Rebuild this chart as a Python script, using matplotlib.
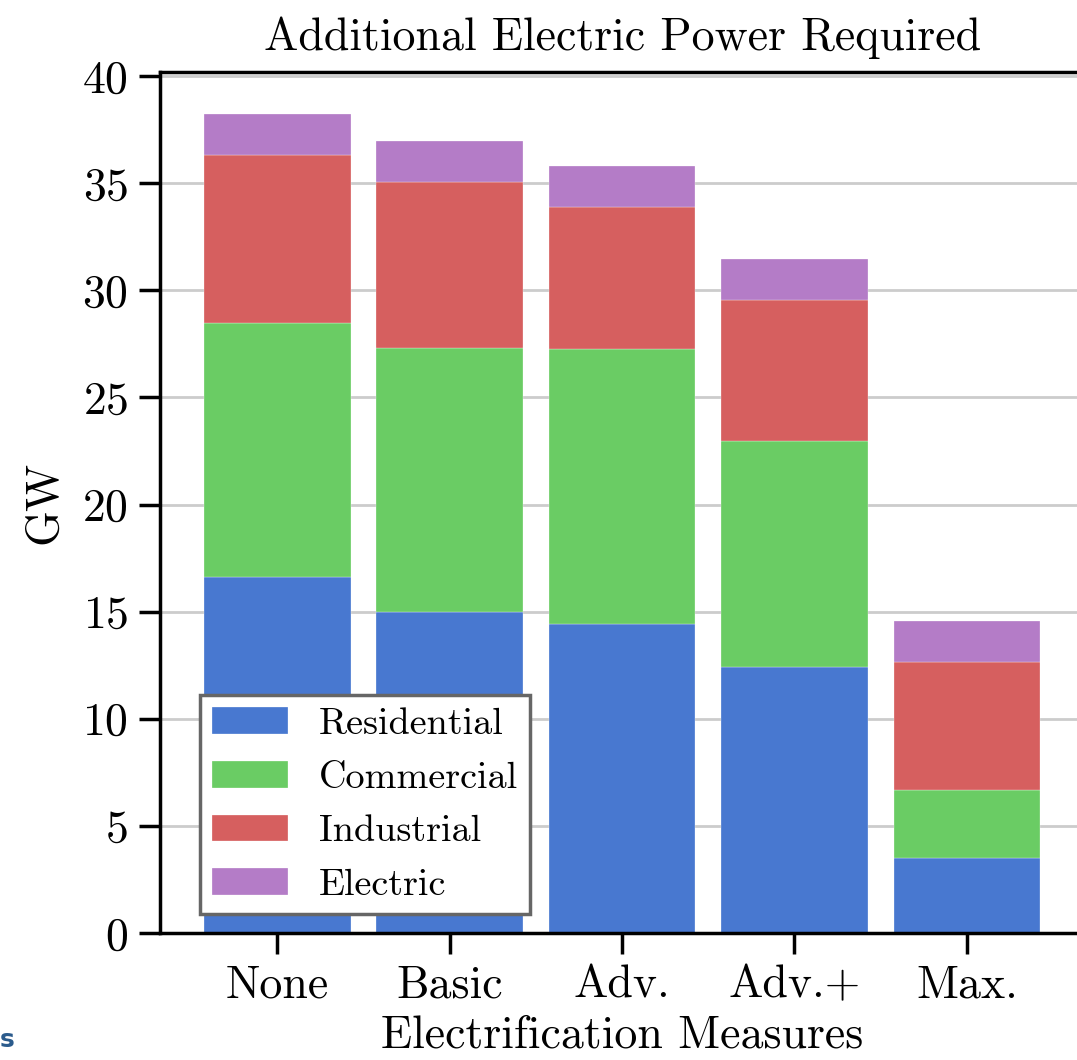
import matplotlib
matplotlib.use("Agg")
import matplotlib.pyplot as plt
import numpy as np

# stacked bars of additional electric power per electrification scenario
measures = ["None", "Basic", "Adv.", "Adv.+", "Max."]
residential = [16.62, 14.98, 14.42, 12.42, 3.50]
commercial = [11.85, 12.32, 12.84, 10.54, 3.17]
industrial = [7.84, 7.75, 6.63, 6.59, 5.98]
electric = [1.92, 1.92, 1.91, 1.91, 1.91]

sectors = ["Residential", "Commercial", "Industrial", "Electric"]
colors = ["#4878d0", "#6acc64", "#d65f5f", "#b47cc7"]

plt.rcParams["font.family"] = "cmr10"
plt.rcParams["axes.formatter.use_mathtext"] = True
plt.rcParams["axes.unicode_minus"] = False

fig = plt.figure(figsize=(10.77, 10.60), dpi=100)
ax = fig.add_axes([0.1486, 0.1198, 0.858, 0.8125])

x = np.arange(len(measures))
bottom = np.zeros(len(measures))
for name, vals, c in zip(sectors, [residential, commercial, industrial, electric], colors):
    ax.bar(x, vals, 0.85, bottom=bottom, color=c, label=name,
           edgecolor="white", linewidth=0.2, zorder=2)
    bottom += np.array(vals)

ax.set_xlim(-0.68, 4.68)
ax.set_ylim(0, 40.2)
ax.set_yticks(range(0, 41, 5))
ax.set_xticks(x)
ax.set_xticklabels(measures)
ax.yaxis.grid(True, color="#cccccc", linewidth=2, zorder=0)
ax.set_axisbelow(True)

for s in ["left", "bottom", "top"]:
    ax.spines[s].set_linewidth(2.5)
ax.spines["right"].set_visible(False)
ax.tick_params(labelsize=33, length=15, width=2.5, pad=8)

ax.set_title("Additional Electric Power Required", fontsize=33, pad=16)
ax.set_xlabel("Electrification Measures", fontsize=33, labelpad=6)
ax.set_ylabel("GW", fontsize=33, labelpad=12)

leg = ax.legend(loc="lower left", bbox_to_anchor=(0.043, 0.022), borderaxespad=0,
                fontsize=27.5, fancybox=False, framealpha=1,
                handlelength=2.0, handleheight=0.7, handletextpad=0.8,
                labelspacing=0.52, borderpad=0.32)
leg.get_frame().set_edgecolor("#666666")
leg.get_frame().set_linewidth(2.5)

fig.text(0.0, 0.012, "s", color="#2b5b8c", fontsize=18, family="DejaVu Sans",
         fontweight="bold")

fig.savefig("out.png", dpi=100)
